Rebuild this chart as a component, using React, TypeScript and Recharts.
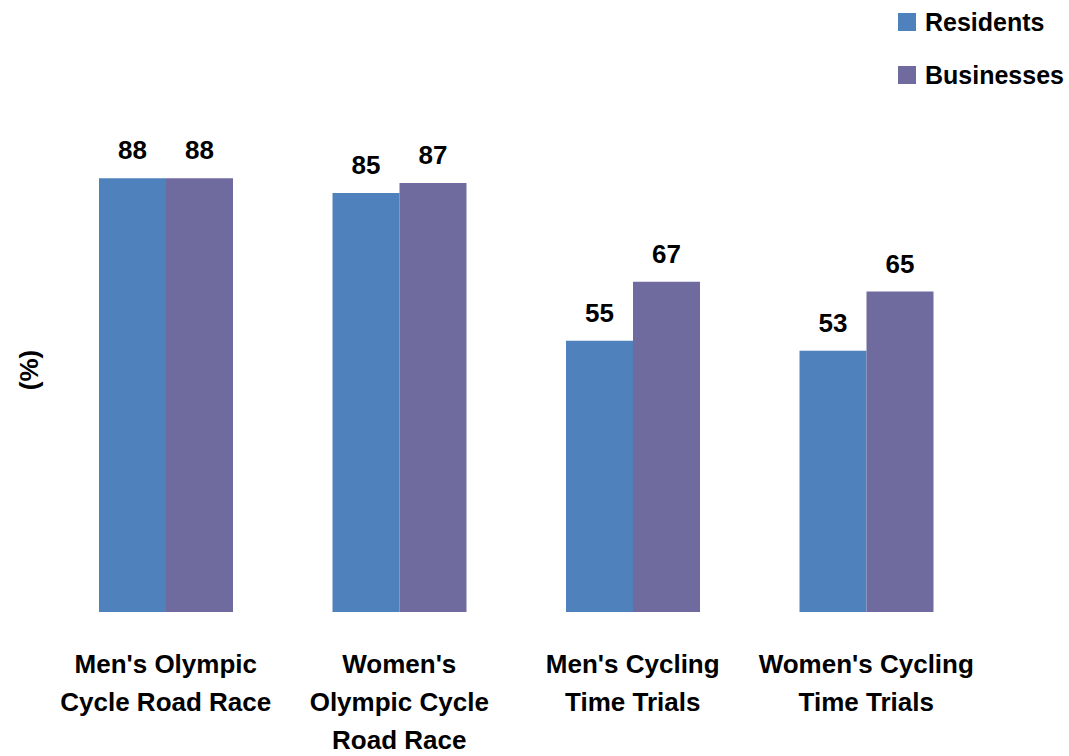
import { Bar, BarChart, XAxis, YAxis, LabelList } from "recharts"

const categories = [
  ["Men's Olympic", "Cycle Road Race"],
  ["Women's", "Olympic Cycle", "Road Race"],
  ["Men's Cycling", "Time Trials"],
  ["Women's Cycling", "Time Trials"],
]
const residents = [88, 85, 55, 53]
const businesses = [88, 87, 67, 65]
const seriesNames = ["Residents", "Businesses"]
const colors = ["#4F81BD", "#6F6B9F"]

const font = "'Liberation Sans', Arial, sans-serif"

const chartData = categories.map((lines, i) => ({
  name: lines.join(" "),
  lines,
  residents: residents[i],
  businesses: businesses[i],
}))

function CategoryTick(props: any) {
  const { x, y, index } = props
  const lines = categories[index] || []
  return (
    <g transform={`translate(${x},${y})`}>
      {lines.map((line, i) => (
        <text
          key={i}
          x={0}
          y={53 + i * 38}
          textAnchor="middle"
          fontFamily={font}
          fontWeight="bold"
          fontSize={26}
          fill="#000"
        >
          {line}
        </text>
      ))}
    </g>
  )
}

export default function App() {
  return (
    <div style={{ position: "absolute", left: 0, top: 0, width: 1069, height: 756, background: "#fff" }}>
      <BarChart
        width={1069}
        height={756}
        data={chartData}
        margin={{ top: 119, right: 86, left: 49, bottom: 0 }}
        barCategoryGap={50}
        barGap={0}
      >
        <XAxis dataKey="name" axisLine={false} tickLine={false} height={144} interval={0} tick={<CategoryTick />} />
        <YAxis hide domain={[0, 100]} />
        <Bar dataKey="residents" name={seriesNames[0]} fill={colors[0]} isAnimationActive={false}>
          <LabelList dataKey="residents" position="top" offset={19} fill="#000" fontSize={26} fontWeight="bold" fontFamily={font} />
        </Bar>
        <Bar dataKey="businesses" name={seriesNames[1]} fill={colors[1]} isAnimationActive={false}>
          <LabelList dataKey="businesses" position="top" offset={19} fill="#000" fontSize={26} fontWeight="bold" fontFamily={font} />
        </Bar>
      </BarChart>
      <div
        style={{
          position: "absolute",
          left: 29,
          top: 370,
          transform: "translate(-50%, -50%) rotate(-90deg)",
          fontFamily: font,
          fontWeight: "bold",
          fontSize: 26,
          whiteSpace: "nowrap",
        }}
      >
        (%)
      </div>
      {seriesNames.map((s, i) => (
        <div
          key={s}
          style={{
            position: "absolute",
            left: 898,
            top: 6 + i * 53,
            height: 32,
            display: "flex",
            alignItems: "center",
            fontFamily: font,
            fontWeight: "bold",
            fontSize: 25,
            whiteSpace: "nowrap",
          }}
        >
          <span style={{ display: "inline-block", width: 18, height: 18, background: colors[i], marginRight: 9 }} />
          {s}
        </div>
      ))}
    </div>
  )
}
